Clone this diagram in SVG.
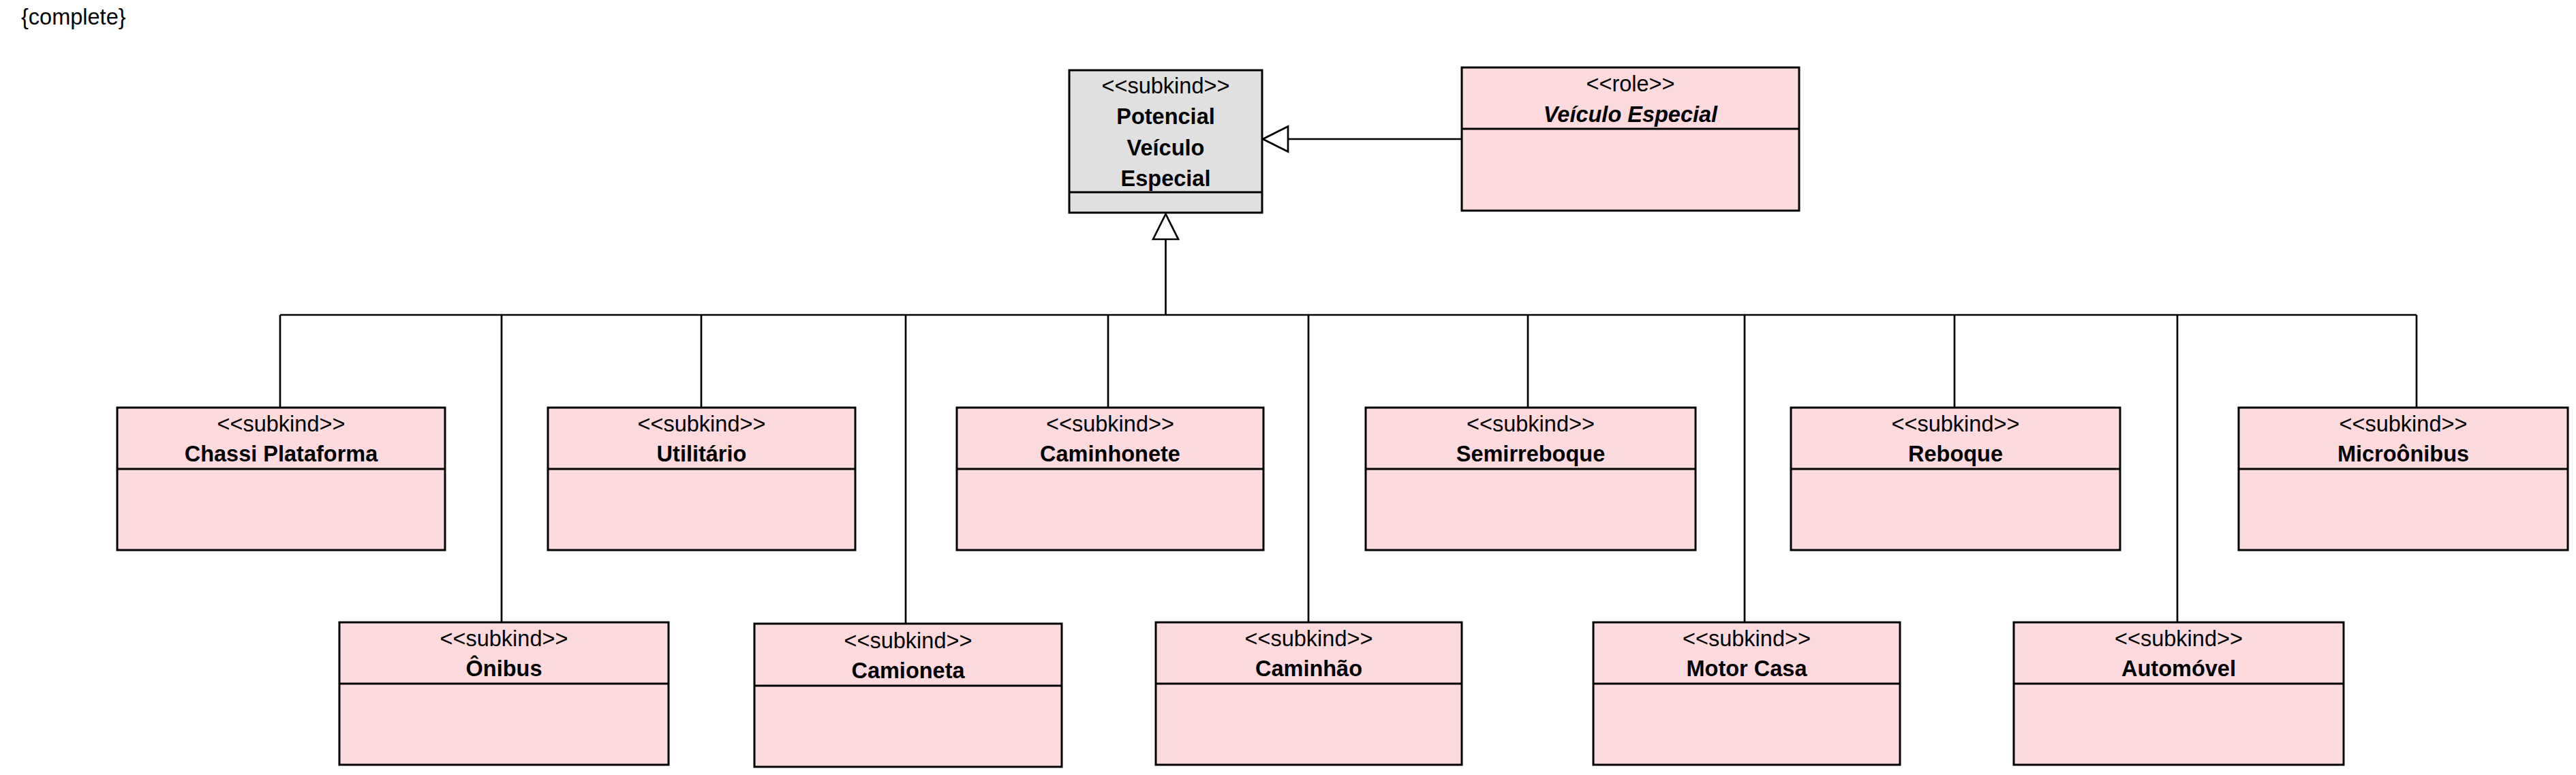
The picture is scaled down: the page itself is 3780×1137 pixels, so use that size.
<svg xmlns="http://www.w3.org/2000/svg" width="3780" height="1137" viewBox="0 0 3780 1137">
<style>
text{font-family:"Liberation Sans",Arial,sans-serif;font-size:32.5px;fill:#000;text-anchor:middle}
.st{font-weight:normal}
.nm{font-weight:bold}
.it{font-weight:bold;font-style:italic}
.box{fill:#FDDADE;stroke:#000;stroke-width:3}
.abs{fill:#E0E0E0;stroke:#000;stroke-width:3}
.div{stroke:#000;stroke-width:3}
.con{stroke:#000;stroke-width:2.7;fill:none}
</style>
<defs>
<marker id="gen" markerUnits="userSpaceOnUse" markerWidth="40" markerHeight="40" refX="37" refY="18.5" orient="auto" overflow="visible">
<path d="M0,0 L37,18.5 L0,37 Z" fill="#fff" stroke="#000" stroke-width="2.7"/>
</marker>
</defs>
<rect width="3780" height="1137" fill="#fff"/>
<text x="31" y="36" style="text-anchor:start">{complete}</text>

<g id="connectors">
<line class="con" x1="2145" y1="204" x2="1853" y2="204" marker-end="url(#gen)"/>
<line class="con" x1="1710.5" y1="462" x2="1710.5" y2="314" marker-end="url(#gen)"/>
<line class="con" x1="411" y1="462" x2="3546" y2="462"/>
<line class="con" x1="411" y1="462" x2="411" y2="597"/>
<line class="con" x1="1029" y1="462" x2="1029" y2="597"/>
<line class="con" x1="1626" y1="462" x2="1626" y2="597"/>
<line class="con" x1="2242" y1="462" x2="2242" y2="597"/>
<line class="con" x1="2868" y1="462" x2="2868" y2="597"/>
<line class="con" x1="3546" y1="462" x2="3546" y2="597"/>
<line class="con" x1="736" y1="462" x2="736" y2="913"/>
<line class="con" x1="1329" y1="462" x2="1329" y2="915"/>
<line class="con" x1="1920" y1="462" x2="1920" y2="913"/>
<line class="con" x1="2560" y1="462" x2="2560" y2="913"/>
<line class="con" x1="3195" y1="462" x2="3195" y2="913"/>
</g>

<g id="potencial-veiculo-especial">
<rect class="abs" x="1569" y="103" width="283" height="209"/>
<line class="div" x1="1569" y1="282" x2="1852" y2="282"/>
<text class="st" x="1710.5" y="137">&lt;&lt;subkind&gt;&gt;</text>
<text class="nm" x="1710.5" y="182">Potencial</text>
<text class="nm" x="1710.5" y="228">Veículo</text>
<text class="nm" x="1710.5" y="273">Especial</text>
</g>

<g id="veiculo-especial">
<rect class="box" x="2145" y="99" width="495" height="210"/>
<line class="div" x1="2145" y1="189" x2="2640" y2="189"/>
<text class="st" x="2392.5" y="134">&lt;&lt;role&gt;&gt;</text>
<text class="it" x="2392.5" y="179">Veículo Especial</text>
</g>

<g id="chassi-plataforma">
<rect class="box" x="172" y="598" width="481" height="209"/>
<line class="div" x1="172" y1="688" x2="653" y2="688"/>
<text class="st" x="412.5" y="633">&lt;&lt;subkind&gt;&gt;</text>
<text class="nm" x="412.5" y="677">Chassi Plataforma</text>
</g>

<g id="utilitario">
<rect class="box" x="804" y="598" width="451" height="209"/>
<line class="div" x1="804" y1="688" x2="1255" y2="688"/>
<text class="st" x="1029.5" y="633">&lt;&lt;subkind&gt;&gt;</text>
<text class="nm" x="1029.5" y="677">Utilitário</text>
</g>

<g id="caminhonete">
<rect class="box" x="1404" y="598" width="450" height="209"/>
<line class="div" x1="1404" y1="688" x2="1854" y2="688"/>
<text class="st" x="1629" y="633">&lt;&lt;subkind&gt;&gt;</text>
<text class="nm" x="1629" y="677">Caminhonete</text>
</g>

<g id="semirreboque">
<rect class="box" x="2004" y="598" width="484" height="209"/>
<line class="div" x1="2004" y1="688" x2="2488" y2="688"/>
<text class="st" x="2246" y="633">&lt;&lt;subkind&gt;&gt;</text>
<text class="nm" x="2246" y="677">Semirreboque</text>
</g>

<g id="reboque">
<rect class="box" x="2628" y="598" width="483" height="209"/>
<line class="div" x1="2628" y1="688" x2="3111" y2="688"/>
<text class="st" x="2869.5" y="633">&lt;&lt;subkind&gt;&gt;</text>
<text class="nm" x="2869.5" y="677">Reboque</text>
</g>

<g id="microonibus">
<rect class="box" x="3285" y="598" width="483" height="209"/>
<line class="div" x1="3285" y1="688" x2="3768" y2="688"/>
<text class="st" x="3526.5" y="633">&lt;&lt;subkind&gt;&gt;</text>
<text class="nm" x="3526.5" y="677">Microônibus</text>
</g>

<g id="onibus">
<rect class="box" x="498" y="913" width="483" height="209"/>
<line class="div" x1="498" y1="1003" x2="981" y2="1003"/>
<text class="st" x="739.5" y="948">&lt;&lt;subkind&gt;&gt;</text>
<text class="nm" x="739.5" y="992">Ônibus</text>
</g>

<g id="camioneta">
<rect class="box" x="1107" y="915" width="451" height="210"/>
<line class="div" x1="1107" y1="1006" x2="1558" y2="1006"/>
<text class="st" x="1332.5" y="951">&lt;&lt;subkind&gt;&gt;</text>
<text class="nm" x="1332.5" y="995">Camioneta</text>
</g>

<g id="caminhao">
<rect class="box" x="1696" y="913" width="449" height="209"/>
<line class="div" x1="1696" y1="1003" x2="2145" y2="1003"/>
<text class="st" x="1920.5" y="948">&lt;&lt;subkind&gt;&gt;</text>
<text class="nm" x="1920.5" y="992">Caminhão</text>
</g>

<g id="motor-casa">
<rect class="box" x="2338" y="913" width="450" height="209"/>
<line class="div" x1="2338" y1="1003" x2="2788" y2="1003"/>
<text class="st" x="2563" y="948">&lt;&lt;subkind&gt;&gt;</text>
<text class="nm" x="2563" y="992">Motor Casa</text>
</g>

<g id="automovel">
<rect class="box" x="2955" y="913" width="484" height="209"/>
<line class="div" x1="2955" y1="1003" x2="3439" y2="1003"/>
<text class="st" x="3197" y="948">&lt;&lt;subkind&gt;&gt;</text>
<text class="nm" x="3197" y="992">Automóvel</text>
</g>
</svg>
